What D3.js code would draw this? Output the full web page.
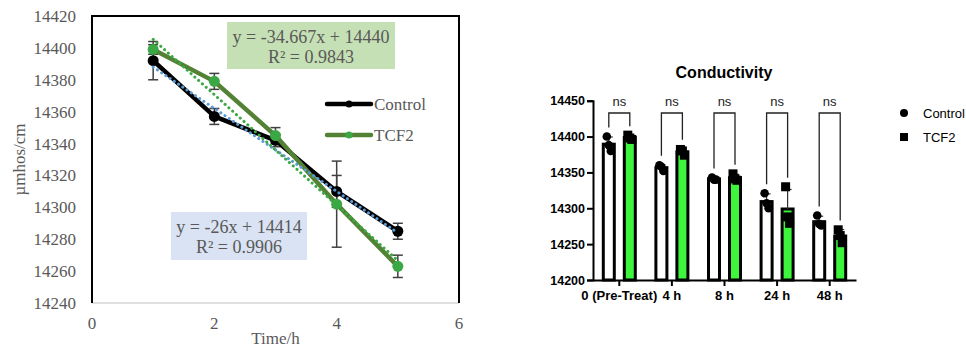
<!DOCTYPE html>
<html>
<head>
<meta charset="utf-8">
<script src="https://cdn.jsdelivr.net/npm/d3@7"></script>
<style>
  body { margin: 0; background: #fff; }
  svg { display: block; }
</style>
</head>
<body>
<svg id="chart" width="966" height="347"></svg>
<script>
// ---- left chart data (line chart, Time/h) ----
const times = [1, 2, 3, 4, 5];
const controlMean = [14392, 14357, 14342, 14310, 14285];
const controlErr = [12, 5, 4, 10, 5];
const tcf2Mean = [14399, 14379, 14345, 14302, 14263];
const tcf2Err = [3, 5, 5, 27, 7];
const leftYTicks = [14240, 14260, 14280, 14300, 14320, 14340, 14360, 14380, 14400, 14420];
const leftXTicks = [0, 2, 4, 6];
const controlFit = { slope: -26, intercept: 14414, label: "y = -26x + 14414", r2: "R² = 0.9906" };
const tcf2Fit = { slope: -34.667, intercept: 14440, label: "y = -34.667x + 14440", r2: "R² = 0.9843" };

// ---- right chart data (bar chart, Conductivity) ----
const groups = ["0 (Pre-Treat)", "4 h", "8 h", "24 h", "48 h"];
const controlReps = [
    [14400, 14388, 14380],
    [14360, 14358, 14352],
    [14343, 14340, 14340],
    [14321, 14307, 14300],
    [14290, 14278, 14276]
];
const tcf2Reps = [
    [14402, 14398, 14396],
    [14382, 14380, 14374],
    [14348, 14341, 14339],
    [14330, 14288, 14279],
    [14270, 14262, 14252]
];
const rightYTicks = [14200, 14250, 14300, 14350, 14400, 14450];
const sigLabels = ["ns", "ns", "ns", "ns", "ns"];

const svg = d3.select("#chart");
const serif = "'Liberation Serif', 'Times New Roman', serif";
const sans = "'Liberation Sans', Arial, sans-serif";

// ================= LEFT CHART =================
const x = d3.scaleLinear().domain([0, 6]).range([92, 459]);
const y = d3.scaleLinear().domain([14240, 14420]).range([303, 16]);

const left = svg.append("g");

// frame: gray bottom axis, black left/top/right
left.append("line")
    .attr("x1", x(0)).attr("x2", x(6)).attr("y1", y(14240)).attr("y2", y(14240))
    .attr("stroke", "#bfbfbf").attr("stroke-width", 1);
left.append("path")
    .attr("d", `M${x(0)},${y(14240)} L${x(0)},${y(14420)} L${x(6)},${y(14420)} L${x(6)},${y(14240)}`)
    .attr("fill", "none").attr("stroke", "#000").attr("stroke-width", 2);

// tick labels
left.selectAll(".ytl").data(leftYTicks).enter().append("text")
    .attr("x", 76).attr("y", d => y(d)).attr("dy", "0.35em")
    .attr("text-anchor", "end")
    .attr("font-family", serif).attr("font-size", 17).attr("fill", "#595959")
    .text(d => d);
left.selectAll(".xtl").data(leftXTicks).enter().append("text")
    .attr("x", d => x(d)).attr("y", 323).attr("dy", "0.35em")
    .attr("text-anchor", "middle")
    .attr("font-family", serif).attr("font-size", 17).attr("fill", "#595959")
    .text(d => d);

left.append("text")
    .attr("x", (x(0) + x(6)) / 2).attr("y", 338).attr("dy", "0.35em")
    .attr("text-anchor", "middle")
    .attr("font-family", serif).attr("font-size", 17).attr("fill", "#595959")
    .text("Time/h");
left.append("text")
    .attr("transform", `translate(19,${(y(14240) + y(14420)) / 2}) rotate(-90)`)
    .attr("dy", "0.35em")
    .attr("text-anchor", "middle")
    .attr("font-family", serif).attr("font-size", 17).attr("fill", "#595959")
    .text("µmhos/cm");

// equation boxes
function eqBox(x0, y0, w, h, fill, fit) {
    left.append("rect").attr("x", x0).attr("y", y0).attr("width", w).attr("height", h).attr("fill", fill);
    left.append("text")
        .attr("x", x0 + w / 2).attr("y", y0 + 15).attr("dy", "0.35em")
        .attr("text-anchor", "middle")
        .attr("font-family", serif).attr("font-size", 18).attr("fill", "#595959")
        .text(fit.label);
    left.append("text")
        .attr("x", x0 + w / 2).attr("y", y0 + 35).attr("dy", "0.35em")
        .attr("text-anchor", "middle")
        .attr("font-family", serif).attr("font-size", 18).attr("fill", "#595959")
        .text(fit.r2);
}
eqBox(227, 22, 168, 47, "#c5e0b4", tcf2Fit);
eqBox(171, 212, 136, 48, "#dae3f3", controlFit);

const lineGen = d3.line().x(d => x(d[0])).y(d => y(d[1]));

const series = [
    { name: "Control", mean: controlMean, err: controlErr, line: "#000000", marker: "#000000" },
    { name: "TCF2", mean: tcf2Mean, err: tcf2Err, line: "#548235", marker: "#3aa844" }
];

// error bars
series.forEach(s => {
    const g = left.append("g");
    times.forEach((t, i) => {
        const lo = y(s.mean[i] - s.err[i]), hi = y(s.mean[i] + s.err[i]);
        g.append("line").attr("x1", x(t)).attr("x2", x(t)).attr("y1", lo).attr("y2", hi)
            .attr("stroke", "#404040").attr("stroke-width", 1.5);
        [lo, hi].forEach(v => g.append("line")
            .attr("x1", x(t) - 5).attr("x2", x(t) + 5).attr("y1", v).attr("y2", v)
            .attr("stroke", "#404040").attr("stroke-width", 1.5));
    });
});

// series lines and markers
series.forEach(s => {
    const pts = times.map((t, i) => [t, s.mean[i]]);
    left.append("path").datum(pts)
        .attr("d", lineGen)
        .attr("fill", "none").attr("stroke", s.line).attr("stroke-width", 4.5)
        .attr("stroke-linejoin", "round");
    left.selectAll(null).data(pts).enter().append("circle")
        .attr("cx", d => x(d[0])).attr("cy", d => y(d[1])).attr("r", 5.5)
        .attr("fill", s.marker);
});

// dotted linear trendlines on top
[[controlFit, "#5b9bd5"], [tcf2Fit, "#3aa844"]].forEach(([f, c]) => {
    const pts = [times[0], times[times.length - 1]].map(t => [t, f.slope * t + f.intercept]);
    left.append("path").datum(pts)
        .attr("d", lineGen)
        .attr("fill", "none").attr("stroke", c).attr("stroke-width", 3)
        .attr("stroke-linecap", "round").attr("stroke-dasharray", "0.1,5");
});

// legend
series.forEach((s, i) => {
    const ly = 104 + i * 31;
    left.append("line").attr("x1", 327).attr("x2", 371).attr("y1", ly).attr("y2", ly)
        .attr("stroke", s.line).attr("stroke-width", 4.5).attr("stroke-linecap", "round");
    left.append("circle").attr("cx", 349).attr("cy", ly).attr("r", 3.5).attr("fill", s.marker);
    left.append("text").attr("x", 374).attr("y", ly).attr("dy", "0.35em")
        .attr("font-family", serif).attr("font-size", 17).attr("fill", "#595959")
        .text(s.name);
});

// ================= RIGHT CHART =================
const bx = d3.scaleBand().domain(groups).range([593, 856]);
const by = d3.scaleLinear().domain([14200, 14450]).range([280, 100.7]);
const right = svg.append("g");

right.append("text")
    .attr("x", 724).attr("y", 72).attr("dy", "0.35em")
    .attr("text-anchor", "middle")
    .attr("font-family", sans).attr("font-weight", "bold").attr("font-size", 16).attr("fill", "#000")
    .text("Conductivity");

const yAxis = right.append("g").attr("transform", "translate(593,0)")
    .call(d3.axisLeft(by).tickValues(rightYTicks).tickSize(6).tickPadding(2).tickFormat(d3.format("d")));
yAxis.select(".domain").attr("stroke-width", 2);
yAxis.selectAll(".tick line").attr("stroke-width", 2);
yAxis.selectAll("text").attr("font-family", sans).attr("font-weight", "bold").attr("font-size", 12.5).attr("fill", "#000");

const xAxis = right.append("g").attr("transform", "translate(0,280)")
    .call(d3.axisBottom(bx).tickSize(6).tickSizeOuter(0).tickPadding(5));
xAxis.select(".domain").attr("stroke-width", 2);
xAxis.selectAll(".tick line").attr("stroke-width", 2);
xAxis.selectAll("text").attr("font-family", sans).attr("font-weight", "bold").attr("font-size", 13).attr("fill", "#000");

const off = 10.5, bw = 11;
const sets = [
    { reps: controlReps, dx: -off, fill: "#ffffff", shape: "circle" },
    { reps: tcf2Reps, dx: off, fill: "#3df53d", shape: "square" }
];

sets.forEach(s => {
    s.reps.forEach((vals, i) => {
        const cx = bx(groups[i]) + bx.bandwidth() / 2 + s.dx;
        const m = d3.mean(vals), sd = d3.deviation(vals);
        right.append("rect")
            .attr("x", cx - bw / 2).attr("y", by(m))
            .attr("width", bw).attr("height", by(14200) - by(m))
            .attr("fill", s.fill).attr("stroke", "#000").attr("stroke-width", 3);
        right.append("line").attr("x1", cx).attr("x2", cx).attr("y1", by(m)).attr("y2", by(m + sd))
            .attr("stroke", "#333").attr("stroke-width", 1.2);
        right.append("line").attr("x1", cx - 4).attr("x2", cx + 4).attr("y1", by(m + sd)).attr("y2", by(m + sd))
            .attr("stroke", "#333").attr("stroke-width", 1.2);
        vals.forEach((v, j) => {
            const px = cx + (j - 1) * 2;
            if (s.shape === "circle") {
                right.append("circle").attr("cx", px).attr("cy", by(v)).attr("r", 4.3).attr("fill", "#000");
            } else {
                right.append("rect").attr("x", px - 4.5).attr("y", by(v) - 4.5).attr("width", 9).attr("height", 9).attr("fill", "#000");
            }
        });
    });
});

// significance brackets
groups.forEach((gname, i) => {
    const c = bx(gname) + bx.bandwidth() / 2;
    const tops = sets.map(s => {
        const vals = s.reps[i];
        return Math.max(d3.max(vals), d3.mean(vals) + d3.deviation(vals));
    });
    const lx = c - off, rx = c + off, ty = 113;
    right.append("path")
        .attr("d", `M${lx},${by(tops[0]) - 9} L${lx},${ty} L${rx},${ty} L${rx},${by(tops[1]) - 9}`)
        .attr("fill", "none").attr("stroke", "#222").attr("stroke-width", 1.3);
    right.append("text")
        .attr("x", c).attr("y", 101).attr("dy", "0.35em")
        .attr("text-anchor", "middle")
        .attr("font-family", sans).attr("font-size", 13).attr("fill", "#222")
        .text(sigLabels[i]);
});

// legend
right.append("circle").attr("cx", 904).attr("cy", 113).attr("r", 4).attr("fill", "#000");
right.append("rect").attr("x", 900).attr("y", 133).attr("width", 8).attr("height", 8).attr("fill", "#000");
right.append("text").attr("x", 923).attr("y", 113).attr("dy", "0.35em")
    .attr("font-family", sans).attr("font-size", 13).attr("fill", "#000").text("Control");
right.append("text").attr("x", 923).attr("y", 137).attr("dy", "0.35em")
    .attr("font-family", sans).attr("font-size", 13).attr("fill", "#000").text("TCF2");
</script>
</body>
</html>
